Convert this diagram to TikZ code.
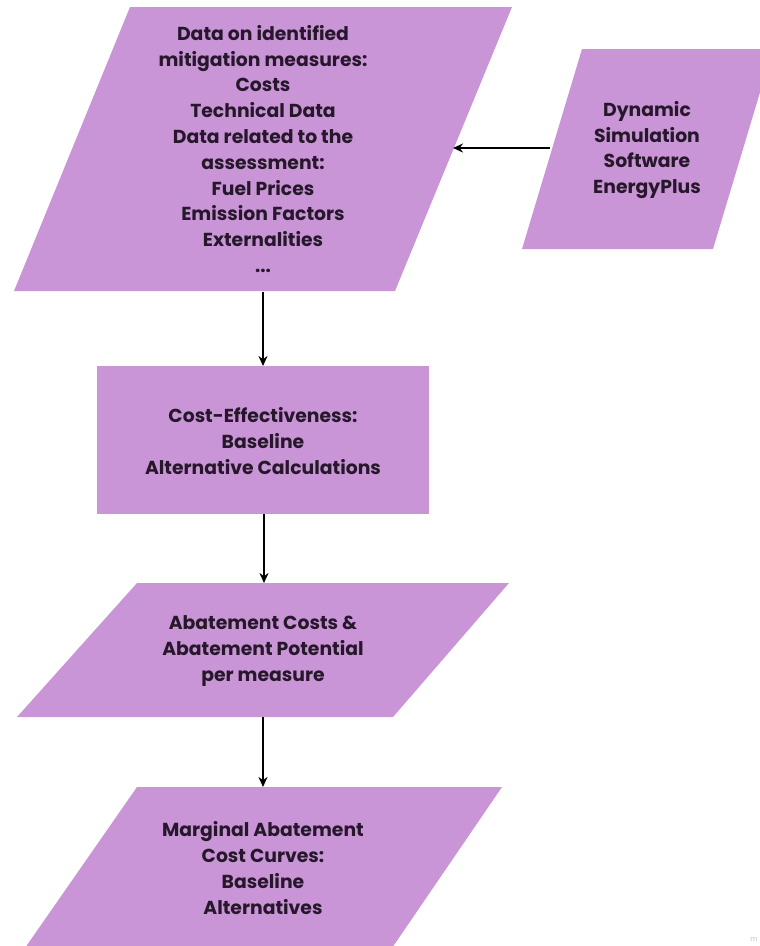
\documentclass[tikz,border=0pt]{standalone}
\usepackage{fontspec}
\setmainfont{Poppins}
\usetikzlibrary{arrows.meta}
\definecolor{boxfill}{RGB}{201,149,215}
\definecolor{boxtext}{RGB}{38,24,42}
\tikzset{
  shapefill/.style={fill=boxfill},
  label/.style={align=center, text=boxtext, font=\fontsize{18.8}{25.8}\selectfont\bfseries, inner sep=0pt},
  flow/.style={line width=2pt, -{Stealth[length=10pt,width=9pt]}}
}
\begin{document}
\begin{tikzpicture}[x=1pt,y=-1pt]
\useasboundingbox (0,0) rectangle (760,946);
\begin{scope}
\clip (0,0) rectangle (760,946);
% input data parallelogram
\fill[shapefill] (130,7) -- (512,7) -- (395,291) -- (14,291) -- cycle;
% simulation software parallelogram
\fill[shapefill] (582,49) -- (773,49) -- (713,249) -- (522,249) -- cycle;
% cost-effectiveness process box
\fill[shapefill] (97,366) rectangle (429,514);
% abatement results parallelogram
\fill[shapefill] (137,583) -- (509,583) -- (393,717) -- (17,717) -- cycle;
% MAC curves parallelogram
\fill[shapefill] (137,787) -- (502,787) -- (392,948) -- (25,948) -- cycle;
\end{scope}

\node[label] (data) at (263,149) {Data on identified\\mitigation measures:\\Costs\\Technical Data\\Data related to the\\assessment:\\Fuel Prices\\Emission Factors\\Externalities\\...};
\node[label] (sim) at (647,150) {Dynamic\\Simulation\\Software\\EnergyPlus};
\node[label] (ce) at (263,441) {Cost-Effectiveness:\\Baseline\\Alternative Calculations};
\node[label] (abate) at (263,651) {Abatement Costs \&\\Abatement Potential\\per measure};
\node[label] (mac) at (263,868) {Marginal Abatement\\Cost Curves:\\Baseline\\Alternatives};
\node[text=black!25, font=\fontsize{7}{8}\selectfont, inner sep=0pt] (wm) at (754,940) {m};

% connector end points on the shape edges
\coordinate (simL) at (550,148);
\coordinate (dataR) at (453,148);
\coordinate (dataB) at (263,292);
\coordinate (ceT) at (263,366);
\coordinate (ceB) at (264,514);
\coordinate (abT) at (264,583);
\coordinate (abB) at (263,717);
\coordinate (macT) at (263,787);

\draw[flow] (simL) -- (dataR);
\draw[flow] (dataB) -- (ceT);
\draw[flow] (ceB) -- (abT);
\draw[flow] (abB) -- (macT);
\end{tikzpicture}
\end{document}
